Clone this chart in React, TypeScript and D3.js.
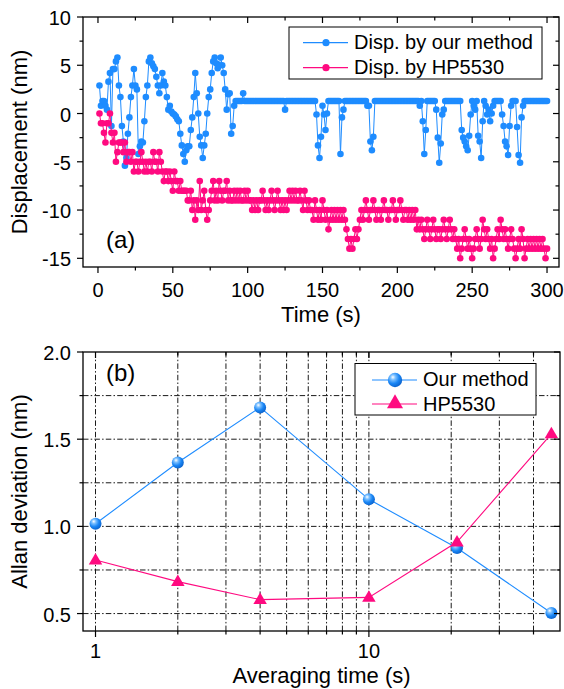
import React from 'react';
import * as d3 from 'd3';

// ---------- Panel (a): displacement vs time (t = 1..300 s) ----------
const DISP_OURS = [
  2.9, 0.8, 1.3, 1.3, 0.8, 0.4, 3.3, 4.2, -1.3, 4.6,
  4.6, 5.4, 5.8, 2.9, 1.7, -1.3, -2.9, -5.4, -4.6, -2.1,
  -0.4, 1.7, 2.9, 4.6, 2.9, 2.5, -4.2, -3.4, -2.9, -3.0,
  -0.8, 1.7, 2.9, 5.4, 5.8, 5.2, 4.9, 4.6, 3.8, 2.9,
  2.1, 2.9, 4.2, 3.3, 2.9, 1.7, 0.4, 0.8, 0.2, 0.0,
  -0.1, -0.3, -0.6, -0.8, -2.1, -3.3, -4.2, -5.0, -3.8, -3.4,
  -3.4, -1.7, -0.4, 1.7, 4.2, 2.1, 0.0, -2.4, -3.3, -4.6,
  -3.3, -2.1, 0.0, 1.7, 2.5, 4.2, 5.4, 5.8, 5.2, 4.7,
  5.0, 5.8, 5.0, 4.2, 2.5, 0.4, 2.0, 2.1, -2.1, -1.3,
  0.8, 1.3, 1.3, 1.3, 1.3, 1.3, 2.1, 1.3, 1.3, 1.3,
  1.3, 1.3, 1.3, 1.3, 1.3, 1.3, 1.3, 1.3, 1.3, 1.3,
  1.3, 1.3, 1.3, 1.3, 1.3, 1.3, 1.3, 1.3, 1.3, 1.3,
  1.3, 1.3, 1.3, 1.3, 0.4, 1.3, 1.3, 1.3, 1.3, 1.3,
  1.3, 1.3, 1.3, 1.3, 1.3, 1.3, 1.3, 1.3, 1.3, 1.3,
  1.3, 1.3, 1.3, 1.3, 1.3, -0.1, -3.3, -4.6, -2.4, 0.8,
  -0.1, -1.7, 0.0, 1.3, 1.3, 1.3, 1.3, 1.3, 1.3, 1.3,
  1.3, -4.2, -0.4, 0.4, 1.3, 1.3, 1.3, 1.3, 1.3, 1.3,
  1.3, 1.3, 1.3, 1.3, 1.3, 1.3, 1.3, 1.3, 1.3, 0.8,
  0.8, -2.9, -3.8, -2.4, 1.3, 1.3, 1.3, 1.3, 1.3, 1.3,
  1.3, 1.3, 1.3, 1.3, 1.3, 1.3, 1.3, 1.3, 1.3, 1.3,
  1.3, 1.3, 1.3, 1.3, 1.3, 1.3, 1.3, 1.3, 1.3, 1.3,
  1.3, 1.3, 1.3, 1.3, 0.8, 1.3, -0.8, -4.2, -1.7, 1.3,
  1.3, 1.3, 1.3, 1.3, 1.3, 0.4, -2.5, -5.1, -3.1, -0.1,
  0.4, 1.3, 1.3, 1.3, 1.3, 1.3, 1.3, 1.3, 1.3, 1.3,
  1.3, 1.3, -1.7, -2.5, -2.9, -3.4, -3.8, -2.3, -0.1, 1.3,
  0.8, 0.4, 1.3, -2.3, -2.9, -4.6, -0.8, 1.3, 0.8, -0.1,
  0.4, -0.8, 0.0, 0.8, 1.3, 1.3, 1.3, 1.3, 1.3, -0.1,
  -1.3, -2.9, -3.4, -4.3, -1.3, 0.8, 1.3, 1.3, 1.3, -1.4,
  -4.3, -5.1, -0.4, 0.8, 1.3, 1.3, 1.3, 1.3, 1.3, 1.3,
  1.3, 1.3, 1.3, 1.3, 1.3, 1.3, 1.3, 1.3, 1.3, 1.3,
];

const DISP_HP = [
  0, -1, -1, -2, -3, -1, -1, 0, -2, -3,
  -2, -5, -4, -3, -3, -3, -4, -3, -5, -4,
  -4, -5, -4, -6, -5, -5, -6, -5, -4, -5,
  -6, -5, -6, -5, -5, -6, -4, -5, -5, -6,
  -4, -5, -6, -7, -6, -6, -7, -6, -7, -8,
  -6, -7, -7, -8, -7, -8, -8, -8, -8, -9,
  -9, -8, -10, -9, -11, -9, -10, -7, -10, -9,
  -8, -10, -11, -10, -9, -8, -7, -9, -8, -9,
  -7, -8, -9, -8, -8, -7, -9, -8, -9, -9,
  -8, -9, -8, -9, -8, -9, -9, -8, -9, -8,
  -9, -9, -10, -9, -10, -9, -10, -9, -9, -8,
  -9, -10, -9, -10, -9, -8, -9, -10, -9, -8,
  -9, -10, -9, -10, -9, -10, -9, -8, -9, -8,
  -9, -8, -9, -9, -8, -9, -10, -8, -9, -10,
  -9, -10, -10, -11, -9, -10, -11, -10, -11, -9,
  -10, -11, -10, -12, -11, -10, -11, -10, -11, -10,
  -11, -10, -11, -10, -11, -12, -13, -14, -13, -14,
  -13, -12, -13, -12, -11, -10, -11, -10, -9, -10,
  -11, -10, -10, -9, -10, -11, -10, -10, -11, -10,
  -9, -10, -10, -11, -10, -10, -9, -10, -11, -10,
  -10, -9, -10, -11, -10, -10, -11, -10, -11, -10,
  -11, -10, -12, -11, -12, -11, -12, -13, -12, -11,
  -12, -13, -12, -11, -12, -13, -12, -12, -13, -12,
  -11, -12, -13, -12, -11, -12, -13, -12, -13, -14,
  -13, -15, -14, -13, -12, -13, -14, -13, -14, -15,
  -14, -13, -12, -13, -14, -13, -11, -12, -13, -12,
  -13, -14, -13, -15, -14, -13, -12, -13, -11, -12,
  -13, -12, -13, -14, -13, -12, -13, -14, -15, -14,
  -13, -14, -12, -13, -15, -14, -13, -14, -13, -14,
  -13, -14, -13, -14, -13, -14, -13, -14, -15, -14,
];

const TIME = d3.range(1, DISP_OURS.length + 1);
const TIME_TICKS = [0, 50, 100, 150, 200, 250, 300];
const DISP_TICKS = [-15, -10, -5, 0, 5, 10];

// ---------- Panel (b): Allan deviation ----------
const TAU = [1, 2, 4, 10, 21, 46.5];
const ALLAN_OURS = [1.015, 1.366, 1.682, 1.155, 0.876, 0.503];
const ALLAN_HP = [0.807, 0.683, 0.58, 0.593, 0.91, 1.53];
const ALLAN_TICKS = [0.5, 1.0, 1.5, 2.0];
const ALLAN_MINOR = [0.75, 1.25, 1.75];
const TAU_MAJOR = [1, 10];
const TAU_MINOR = [2, 3, 4, 5, 6, 7, 8, 9, 20, 30, 40];

const BLUE = '#1E8CFF';
const PINK = '#FF0A80';
const FONT = 'Liberation Sans, Arial, Helvetica, sans-serif';

export default function App() {
  // panel (a) geometry
  const aL = 83, aR = 559, aT = 17, aB = 267;
  const xA = d3.scaleLinear().domain([-10, 308]).range([aL, aR]);
  const yA = d3.scaleLinear().domain([-15.9, 10]).range([aB, aT]);
  const lineA = d3.line<number>().x((_, i) => xA(TIME[i])).y((d) => yA(d));

  // panel (b) geometry
  const bL = 83, bR = 560, bT = 352, bB = 631;
  const xB = d3.scaleLog().domain([0.9, 50]).range([bL, bR]);
  const yB = d3.scaleLinear().domain([0.4, 2.0]).range([bB, bT]);
  const lineB = d3.line<number>().x((_, i) => xB(TAU[i])).y((d) => yB(d));

  const minorTimes = d3.range(25, 301, 50);
  const minorDisp = [-12.5, -7.5, -2.5, 2.5, 7.5];

  const tri = (cx: number, cy: number, w: number, h: number) =>
    `M${cx},${cy - h * 0.62} L${cx + w / 2},${cy + h * 0.38} L${cx - w / 2},${cy + h * 0.38} Z`;

  const grid = { stroke: '#1a1a1a', strokeWidth: 1, strokeDasharray: '5.5,2.2,1.5,2.2' };

  return (
    <svg width={564} height={689} style={{ position: 'absolute', left: 0, top: 0, background: '#fff' }}
      fontFamily={FONT}>
      <defs>
        <radialGradient id="sphere" cx="0.38" cy="0.35" r="0.7" fx="0.35" fy="0.3">
          <stop offset="0" stopColor="#ffffff" />
          <stop offset="0.25" stopColor="#7cc0ff" />
          <stop offset="0.6" stopColor="#1a86f5" />
          <stop offset="1" stopColor="#0a5fc8" />
        </radialGradient>
        <clipPath id="clipA"><rect x={aL} y={aT} width={aR - aL} height={aB - aT} /></clipPath>
      </defs>

      {/* ===== Panel (a) ===== */}
      <g clipPath="url(#clipA)">
        <path d={lineA(DISP_OURS) || ''} fill="none" stroke={BLUE} strokeWidth={1} />
        {DISP_OURS.map((v, i) => (
          <circle key={'b' + i} cx={xA(TIME[i])} cy={yA(v)} r={3.3} fill={BLUE} />
        ))}
        <path d={lineA(DISP_HP) || ''} fill="none" stroke={PINK} strokeWidth={1} />
        {DISP_HP.map((v, i) => (
          <circle key={'p' + i} cx={xA(TIME[i])} cy={yA(v)} r={3.3} fill={PINK} />
        ))}
      </g>
      <rect x={aL} y={aT} width={aR - aL} height={aB - aT} fill="none" stroke="#000" strokeWidth={1.3} />
      {TIME_TICKS.map((t) => (
        <g key={'tx' + t}>
          <line x1={xA(t)} x2={xA(t)} y1={aB} y2={aB + 6} stroke="#000" strokeWidth={1.2} />
          <line x1={xA(t)} x2={xA(t)} y1={aT} y2={aT + 6} stroke="#000" strokeWidth={1.2} />
          <text x={xA(t)} y={aB + 30} fontSize={20} textAnchor="middle">{t}</text>
        </g>
      ))}
      {minorTimes.map((t) => (
        <g key={'mtx' + t}>
          <line x1={xA(t)} x2={xA(t)} y1={aB} y2={aB + 3.5} stroke="#000" strokeWidth={1.2} />
          <line x1={xA(t)} x2={xA(t)} y1={aT} y2={aT + 3.5} stroke="#000" strokeWidth={1.2} />
        </g>
      ))}
      {DISP_TICKS.map((v) => (
        <g key={'ty' + v}>
          <line x1={aL - 6} x2={aL} y1={yA(v)} y2={yA(v)} stroke="#000" strokeWidth={1.2} />
          <line x1={aR - 6} x2={aR} y1={yA(v)} y2={yA(v)} stroke="#000" strokeWidth={1.2} />
          <text x={aL - 12} y={yA(v)} dy="0.4em" fontSize={20} textAnchor="end">{v}</text>
        </g>
      ))}
      {minorDisp.map((v) => (
        <g key={'mty' + v}>
          <line x1={aL - 3.5} x2={aL} y1={yA(v)} y2={yA(v)} stroke="#000" strokeWidth={1.2} />
          <line x1={aR - 3.5} x2={aR} y1={yA(v)} y2={yA(v)} stroke="#000" strokeWidth={1.2} />
        </g>
      ))}
      <text x={(aL + aR) / 2} y={322} fontSize={22} textAnchor="middle">Time (s)</text>
      <text transform={`translate(27,${(aT + aB) / 2}) rotate(-90)`} fontSize={22} textAnchor="middle">
        Displacement (nm)
      </text>
      <text x={106} y={248} fontSize={24}>(a)</text>

      {/* legend (a) */}
      <rect x={289} y={27} width={253} height={52} fill="#fff" stroke="#000" strokeWidth={1} />
      <line x1={303} x2={348} y1={42.7} y2={42.7} stroke={BLUE} strokeWidth={1.2} />
      <circle cx={326} cy={42.7} r={3.6} fill={BLUE} />
      <text x={354} y={49} fontSize={20}>Disp. by our method</text>
      <line x1={303} x2={348} y1={67.7} y2={67.7} stroke={PINK} strokeWidth={1.2} />
      <circle cx={326} cy={67.7} r={3.6} fill={PINK} />
      <text x={354} y={74} fontSize={20}>Disp. by HP5530</text>

      {/* ===== Panel (b) ===== */}
      {TAU_MINOR.concat(TAU_MAJOR).map((t) => (
        <line key={'gx' + t} x1={xB(t)} x2={xB(t)} y1={bT} y2={bB} {...grid} />
      ))}
      {ALLAN_TICKS.concat(ALLAN_MINOR).filter((v) => v < 2).map((v) => (
        <line key={'gy' + v} x1={bL} x2={bR} y1={yB(v)} y2={yB(v)} {...grid} />
      ))}
      <path d={lineB(ALLAN_OURS) || ''} fill="none" stroke={BLUE} strokeWidth={1.1} />
      <path d={lineB(ALLAN_HP) || ''} fill="none" stroke={PINK} strokeWidth={1.1} />
      {ALLAN_OURS.map((v, i) => (
        <circle key={'ao' + i} cx={xB(TAU[i])} cy={yB(v)} r={6} fill="url(#sphere)" />
      ))}
      {ALLAN_HP.map((v, i) => (
        <path key={'ah' + i} d={tri(xB(TAU[i]), yB(v), 13.5, 11.5)} fill={PINK} />
      ))}
      <rect x={bL} y={bT} width={bR - bL} height={bB - bT} fill="none" stroke="#000" strokeWidth={1.3} />
      {TAU_MAJOR.map((t) => (
        <g key={'btx' + t}>
          <line x1={xB(t)} x2={xB(t)} y1={bB} y2={bB + 6} stroke="#000" strokeWidth={1.2} />
          <line x1={xB(t)} x2={xB(t)} y1={bT} y2={bT + 6} stroke="#000" strokeWidth={1.2} />
          <text x={xB(t)} y={bB + 27} fontSize={20} textAnchor="middle">{t}</text>
        </g>
      ))}
      {TAU_MINOR.map((t) => (
        <g key={'bmtx' + t}>
          <line x1={xB(t)} x2={xB(t)} y1={bB} y2={bB + 3.5} stroke="#000" strokeWidth={1.2} />
          <line x1={xB(t)} x2={xB(t)} y1={bT} y2={bT + 3.5} stroke="#000" strokeWidth={1.2} />
        </g>
      ))}
      {ALLAN_TICKS.map((v) => (
        <g key={'bty' + v}>
          <line x1={bL - 6} x2={bL} y1={yB(v)} y2={yB(v)} stroke="#000" strokeWidth={1.2} />
          <line x1={bR - 6} x2={bR} y1={yB(v)} y2={yB(v)} stroke="#000" strokeWidth={1.2} />
          <text x={bL - 12} y={yB(v)} dy="0.4em" fontSize={20} textAnchor="end">{v.toFixed(1)}</text>
        </g>
      ))}
      {ALLAN_MINOR.map((v) => (
        <g key={'bmty' + v}>
          <line x1={bL - 3.5} x2={bL} y1={yB(v)} y2={yB(v)} stroke="#000" strokeWidth={1.2} />
          <line x1={bR - 3.5} x2={bR} y1={yB(v)} y2={yB(v)} stroke="#000" strokeWidth={1.2} />
        </g>
      ))}
      <text x={(bL + bR) / 2} y={683} fontSize={22} textAnchor="middle">Averaging time (s)</text>
      <text transform={`translate(27,${(bT + bB) / 2}) rotate(-90)`} fontSize={22} textAnchor="middle">
        Allan deviation (nm)
      </text>
      <text x={106} y={381} fontSize={24}>(b)</text>

      {/* legend (b) */}
      <rect x={355} y={363.5} width={181} height={51.5} fill="#fff" stroke="#000" strokeWidth={1} />
      <line x1={372} x2={417} y1={380} y2={380} stroke={BLUE} strokeWidth={1.1} />
      <circle cx={395} cy={380} r={7.2} fill="url(#sphere)" />
      <text x={423} y={386} fontSize={20}>Our method</text>
      <line x1={372} x2={417} y1={404} y2={404} stroke={PINK} strokeWidth={1.1} />
      <path d={tri(395, 403, 16, 14)} fill={PINK} />
      <text x={423} y={410.5} fontSize={20}>HP5530</text>
    </svg>
  );
}
